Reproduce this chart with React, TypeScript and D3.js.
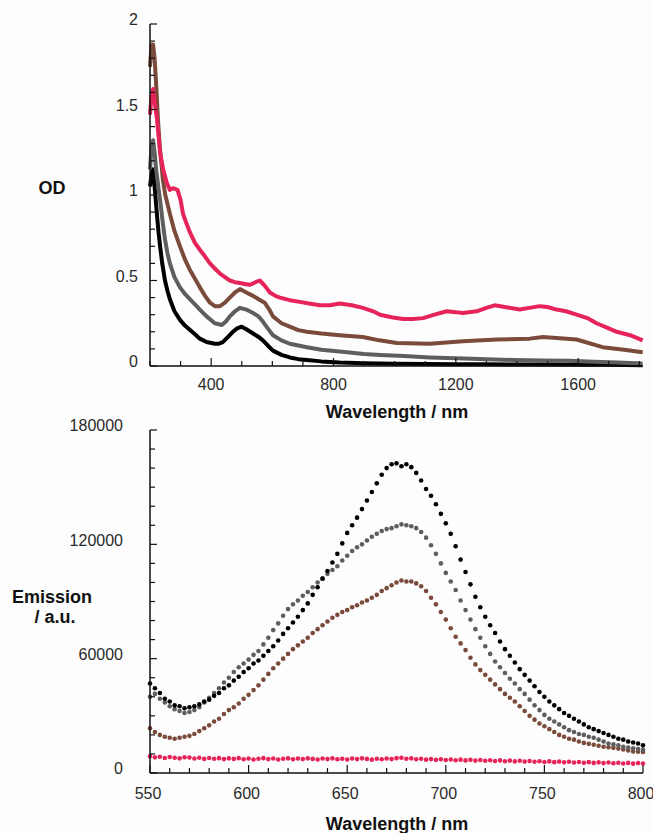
import React from "react";
import * as d3 from "d3";

// ---------- Top panel: absorption spectra (OD vs wavelength) ----------
const odTicks = [0, 0.5, 1, 1.5, 2];
const odXTicks = [400, 800, 1200, 1600];

const odBlack: [number, number][] = [
  [200, 1.05], [205, 1.12], [210, 1.15], [216, 1.03], [222, 0.9], [228, 0.78], [233, 0.7], [240, 0.6],
  [249, 0.5], [257, 0.44], [265, 0.39], [280, 0.32], [298, 0.27], [315, 0.235], [331, 0.21], [347, 0.185],
  [363, 0.16], [385, 0.14], [412, 0.13], [425, 0.13], [438, 0.14], [455, 0.17], [471, 0.2], [485, 0.22],
  [500, 0.23], [515, 0.215], [537, 0.19], [555, 0.17], [569, 0.15], [585, 0.12], [602, 0.09], [630, 0.065],
  [657, 0.05], [685, 0.04], [713, 0.035], [760, 0.027], [820, 0.02], [900, 0.016], [1000, 0.013],
  [1100, 0.012], [1200, 0.01], [1300, 0.01], [1400, 0.009], [1500, 0.009], [1600, 0.008], [1700, 0.007],
  [1810, 0.005],
];
const odGray: [number, number][] = [
  [200, 1.15], [205, 1.28], [210, 1.32], [215, 1.25], [220, 1.15], [227, 1.05], [233, 0.97], [241, 0.85],
  [249, 0.74], [257, 0.66], [265, 0.6], [280, 0.52], [298, 0.46], [315, 0.42], [331, 0.39], [347, 0.36],
  [363, 0.33], [385, 0.29], [412, 0.25], [435, 0.24], [448, 0.26], [461, 0.29], [478, 0.32], [494, 0.34],
  [515, 0.33], [537, 0.31], [555, 0.29], [569, 0.26], [585, 0.22], [602, 0.18], [630, 0.15], [657, 0.13],
  [685, 0.12], [713, 0.11], [760, 0.095], [820, 0.085], [900, 0.07], [952, 0.065], [1030, 0.058],
  [1115, 0.05], [1200, 0.045], [1300, 0.04], [1386, 0.035], [1480, 0.032], [1572, 0.03], [1650, 0.025],
  [1730, 0.02], [1810, 0.015],
];
const odBrown: [number, number][] = [
  [200, 1.75], [205, 1.88], [210, 1.88], [215, 1.8], [220, 1.65], [226, 1.44], [232, 1.28], [239, 1.15],
  [242, 1.09], [250, 1.0], [265, 0.89], [280, 0.79], [298, 0.7], [315, 0.62], [331, 0.56], [347, 0.51],
  [363, 0.46], [380, 0.41], [396, 0.37], [412, 0.35], [429, 0.35], [445, 0.37], [461, 0.4], [478, 0.43],
  [494, 0.45], [515, 0.43], [537, 0.41], [555, 0.39], [575, 0.37], [590, 0.33], [602, 0.29], [630, 0.25],
  [657, 0.23], [685, 0.21], [713, 0.2], [760, 0.19], [820, 0.18], [896, 0.17], [950, 0.15], [1007, 0.135],
  [1115, 0.13], [1223, 0.145], [1334, 0.155], [1442, 0.16], [1485, 0.17], [1595, 0.155], [1680, 0.11],
  [1750, 0.095], [1811, 0.08],
];
const odRed: [number, number][] = [
  [200, 1.47], [205, 1.58], [210, 1.62], [217, 1.52], [223, 1.44], [233, 1.25], [243, 1.15], [255, 1.07],
  [265, 1.03], [275, 1.04], [290, 1.03], [300, 0.97], [308, 0.89], [320, 0.83], [331, 0.78], [347, 0.72],
  [363, 0.68], [380, 0.64], [396, 0.6], [412, 0.57], [429, 0.54], [445, 0.52], [461, 0.5], [478, 0.49],
  [494, 0.485], [510, 0.48], [527, 0.475], [545, 0.49], [559, 0.5], [575, 0.47], [592, 0.43], [610, 0.41],
  [625, 0.4], [657, 0.385], [690, 0.375], [720, 0.365], [755, 0.355], [788, 0.355], [820, 0.365],
  [860, 0.355], [896, 0.34], [930, 0.32], [952, 0.3], [990, 0.285], [1027, 0.275], [1060, 0.275],
  [1093, 0.28], [1130, 0.3], [1170, 0.32], [1200, 0.315], [1223, 0.31], [1268, 0.32], [1300, 0.34],
  [1327, 0.355], [1360, 0.345], [1409, 0.33], [1440, 0.34], [1474, 0.35], [1500, 0.345], [1529, 0.33],
  [1560, 0.32], [1595, 0.3], [1630, 0.28], [1660, 0.25], [1700, 0.22], [1726, 0.2], [1770, 0.18],
  [1811, 0.15],
];

// ---------- Bottom panel: emission spectra ----------
const emYTicks = [0, 60000, 120000, 180000];
const emXTicks = [550, 600, 650, 700, 750, 800];
const emWavelengths = d3.range(550, 800.01, 2.5);

const emBlack = [
  47000, 44500, 42000, 39000, 37500, 35500, 35000, 34000, 34500, 35000, 36000, 37500, 38500, 40500, 42000,
  44500, 46000, 48500, 50500, 53000, 55000, 57500, 59000, 61500, 64000, 66500, 69500, 73000, 76000, 79000,
  82000, 85500, 89000, 93500, 97500, 102000, 106000, 110500, 115000, 120500, 126000, 130000, 134000,
  138500, 143000, 147500, 152000, 156500, 160000, 162000, 162500, 161000, 162000, 160500, 157500, 153500,
  149000, 145500, 141000, 136000, 131000, 125500, 119000, 112000, 105500, 99000, 92500, 87000, 82000,
  77500, 73500, 69000, 65000, 61500, 58000, 54500, 51500, 48500, 45500, 42500, 40000, 37500, 35500, 33500,
  31500, 30000, 28500, 27000, 25500, 24000, 23000, 22000, 21000, 20000, 19000, 18000, 17500, 16500, 16000,
  15500, 14500,
];
const emGray = [
  40000, 41500, 39000, 37000, 35000, 33500, 32500, 31500, 32000, 33000, 34500, 37000, 39500, 42000, 44500,
  47500, 50000, 53000, 55500, 57500, 59500, 62000, 64000, 67500, 71000, 75000, 78500, 82500, 86000, 88500,
  90500, 93000, 95000, 97500, 100000, 102000, 104500, 106500, 108500, 111500, 114000, 116500, 118500,
  120000, 122000, 124000, 125500, 127000, 128000, 128500, 129500, 130500, 130000, 129500, 128500, 126500,
  123500, 119500, 115000, 110000, 105000, 100500, 96000, 90500, 85500, 80500, 75500, 71000, 66500, 62500,
  58500, 55500, 52500, 49500, 47000, 44000, 41500, 38500, 35500, 33000, 30500, 28500, 27000, 25500, 24000,
  22500, 21500, 20500, 20000, 19000, 18500, 17500, 16500, 15500, 15000, 14500, 13800, 13300, 13000, 12600,
  12200,
];
const emBrown = [
  23500, 21500, 20000, 19000, 18500, 18000, 18500, 19000, 19500, 20500, 22000, 23500, 25000, 27000, 28500,
  31000, 33000, 34500, 36500, 39000, 41000, 43500, 46000, 49000, 52000, 55000, 57500, 60000, 62500, 65000,
  67000, 69000, 71000, 73500, 75500, 77500, 79500, 81500, 83000, 84500, 85500, 87000, 88000, 89500, 90500,
  92000, 93500, 95500, 97000, 98500, 100000, 101000, 100500, 100500, 99500, 98000, 95500, 92000, 88500,
  84500, 80500, 76000, 71500, 68000, 64500, 60500, 57000, 54000, 51500, 49000, 46500, 44000, 41500, 39500,
  37500, 35000, 32500, 30000, 28000, 26000, 24500, 23000, 21500, 20000, 19000, 18000, 17500, 16500, 15800,
  15300, 14800, 14300, 13800, 13500, 13200, 12800, 12300, 11800, 11300, 11200, 11000,
];
const emRed = [
  8800, 8200, 8500, 7900, 8400, 8000, 7700, 8300, 8100, 7600, 8000, 7400, 7900, 7500, 7800, 7300, 7700,
  7400, 7800, 7200, 7600, 7100, 7500, 7800, 7300, 7600, 7100, 7500, 7700, 7200, 7600, 7300, 7700, 7400,
  7100, 7600, 7300, 7700, 7200, 7500, 7100, 7600, 7300, 7700, 7400, 7000, 7500, 7200, 7600, 7300, 7800,
  8000, 7500, 7700, 7200, 7500, 7000, 7300, 6900, 7200, 6800, 7100, 6700, 7000, 6600, 6900, 6500, 6800,
  6400, 6700, 6300, 6600, 6200, 6500, 6100, 6400, 6000, 6300, 5900, 6200, 5800, 6100, 5700, 6000, 5600,
  5900, 5500, 5800, 5400, 5700, 5300, 5600, 5200, 5500, 5100, 5400, 5000, 5300, 4900, 5200, 5000,
];

const RED = "#e6245a";
const BROWN = "#7a4a3b";
const GRAY = "#5e5e5e";
const BLACK = "#000000";

const FONT = "'Liberation Sans', Arial, sans-serif";

export default function App() {
  const W = 653;
  const H = 833;

  const xT = d3.scaleLinear().domain([200, 1812]).range([150, 643]);
  const yT = d3.scaleLinear().domain([0, 2]).range([366, 24]);
  const xB = d3.scaleLinear().domain([550, 800]).range([150, 643]);
  const yB = d3.scaleLinear().domain([0, 180000]).range([773, 430]);

  const lineT = d3
    .line<[number, number]>()
    .x((d) => xT(d[0]))
    .y((d) => yT(d[1]));

  const odSeries = [
    { data: odBlack, color: BLACK },
    { data: odGray, color: GRAY },
    { data: odBrown, color: BROWN },
    { data: odRed, color: RED },
  ];
  const emSeries = [
    { data: emBrown, color: BROWN },
    { data: emGray, color: GRAY },
    { data: emBlack, color: BLACK },
    { data: emRed, color: RED },
  ];

  const topYMinor = d3.range(0, 2.001, 0.1);
  const topXMinor = d3.range(200, 1812, 100);
  const botYMinor = d3.range(0, 180001, 10000);
  const botXMinor = d3.range(550, 800.01, 10);

  const axisColor = "#111";

  return (
    <svg
      width={W}
      height={H}
      style={{ position: "absolute", left: 0, top: 0, background: "#fff" }}
      fontFamily={FONT}
    >
      <rect x={0} y={0} width={W} height={H} fill="#fdfdfd" />

      {/* ===== TOP PANEL ===== */}
      <g>
        {odSeries.map((s, i) => (
          <path
            key={i}
            d={lineT(s.data) || ""}
            fill="none"
            stroke={s.color}
            strokeWidth={4}
            strokeLinejoin="round"
          />
        ))}
        <line x1={xT(200)} x2={xT(200)} y1={yT(0)} y2={yT(2)} stroke={axisColor} strokeWidth={1.5} />
        <line x1={xT(200)} x2={643} y1={yT(0)} y2={yT(0)} stroke={axisColor} strokeWidth={1.5} />
        {topYMinor.map((v, i) => (
          <line
            key={i}
            x1={xT(200)}
            x2={xT(200) + (Math.abs((v * 10) % 5) < 0.01 ? 7 : 5)}
            y1={yT(v)}
            y2={yT(v)}
            stroke={axisColor}
            strokeWidth={1.2}
          />
        ))}
        {topXMinor.map((v, i) => (
          <line
            key={i}
            x1={xT(v)}
            x2={xT(v)}
            y1={yT(0)}
            y2={yT(0) - (v % 400 === 0 ? 8 : 5)}
            stroke={axisColor}
            strokeWidth={1.2}
          />
        ))}
        {odTicks.map((v) => (
          <text key={v} x={138} y={yT(v) - 3} textAnchor="end" dominantBaseline="middle" fontSize={16} fill="#2a2a2a">
            {v}
          </text>
        ))}
        {odXTicks.map((v) => (
          <text key={v} x={xT(v)} y={386} textAnchor="middle" dominantBaseline="middle" fontSize={16} fill="#2a2a2a">
            {v}
          </text>
        ))}
        <text x={52} y={189} textAnchor="middle" dominantBaseline="middle" fontSize={18} fontWeight="bold" fill="#111">
          OD
        </text>
        <text x={397} y={413} textAnchor="middle" dominantBaseline="middle" fontSize={18} fontWeight="bold" fill="#111">
          Wavelength / nm
        </text>
      </g>

      {/* ===== BOTTOM PANEL ===== */}
      <g>
        {emSeries.map((s, i) => (
          <g key={i} fill={s.color}>
            {s.data.map((v, j) => (
              <circle key={j} cx={xB(emWavelengths[j])} cy={yB(v)} r={2.3} />
            ))}
          </g>
        ))}
        <line x1={xB(550)} x2={xB(550)} y1={yB(0)} y2={yB(180000)} stroke={axisColor} strokeWidth={1.5} />
        <line x1={xB(550)} x2={xB(800)} y1={yB(0)} y2={yB(0)} stroke={axisColor} strokeWidth={1.5} />
        {botYMinor.map((v, i) => (
          <line
            key={i}
            x1={xB(550)}
            x2={xB(550) + (v % 60000 === 0 ? 7 : 5)}
            y1={yB(v)}
            y2={yB(v)}
            stroke={axisColor}
            strokeWidth={1.2}
          />
        ))}
        {botXMinor.map((v, i) => (
          <line
            key={i}
            x1={xB(v)}
            x2={xB(v)}
            y1={yB(0)}
            y2={yB(0) - (Math.round(v) % 50 === 0 ? 8 : 5)}
            stroke={axisColor}
            strokeWidth={1.2}
          />
        ))}
        {emYTicks.map((v) => (
          <text key={v} x={123} y={yB(v) - 3} textAnchor="end" dominantBaseline="middle" fontSize={16} fill="#2a2a2a">
            {v}
          </text>
        ))}
        {emXTicks.map((v) => (
          <text key={v} x={xB(v) - 2} y={795} textAnchor="middle" dominantBaseline="middle" fontSize={16} fill="#2a2a2a">
            {v}
          </text>
        ))}
        <text x={52} y={598} textAnchor="middle" dominantBaseline="middle" fontSize={18} fontWeight="bold" fill="#111">
          Emission
        </text>
        <text x={55} y={618} textAnchor="middle" dominantBaseline="middle" fontSize={18} fontWeight="bold" fill="#111">
          / a.u.
        </text>
        <text x={397} y={825} textAnchor="middle" dominantBaseline="middle" fontSize={18} fontWeight="bold" fill="#111">
          Wavelength / nm
        </text>
      </g>
    </svg>
  );
}
